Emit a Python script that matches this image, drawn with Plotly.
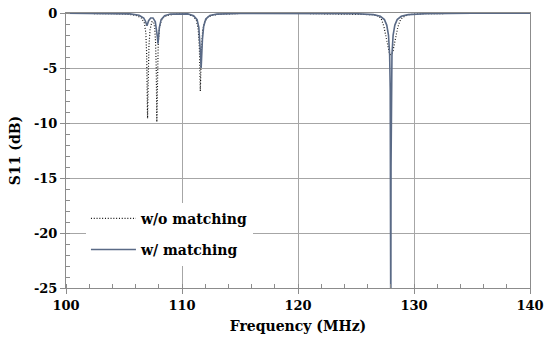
import plotly.graph_objects as go

# ---- data ----
freq_wo = [100, 105, 106.0, 106.5, 106.75, 106.88, 106.95, 107.0, 107.03, 107.08, 107.15,
           107.25, 107.4, 107.55, 107.65, 107.72, 107.78, 107.83, 107.88, 107.95, 108.05,
           108.2, 108.45, 108.8, 109.5, 110.5, 111.0, 111.25, 111.4, 111.5, 111.58, 111.66,
           111.78, 111.95, 112.2, 112.6, 113.3, 115, 120, 125, 126.5, 127.0, 127.2, 127.4,
           127.55, 127.7, 127.8, 127.9, 128.0, 128.1, 128.2, 128.3, 128.45, 128.6, 128.8,
           129.0, 129.5, 131, 135, 140]
s11_wo = [-0.02, -0.08, -0.2, -0.45, -0.9, -1.8, -3.6, -7.5, -9.6, -6.5, -3.0,
          -1.5, -0.8, -0.8, -1.4, -2.6, -5.0, -9.9, -6.0, -2.8, -1.4,
          -0.7, -0.35, -0.2, -0.1, -0.12, -0.3, -0.7, -1.5, -3.2, -7.1, -3.6,
          -1.6, -0.8, -0.4, -0.2, -0.1, -0.04, -0.03, -0.08, -0.15, -0.3, -0.6, -1.2,
          -2.0, -2.9, -3.4, -3.75, -3.8, -3.7, -3.4, -2.8, -2.0, -1.3, -0.7,
          -0.4, -0.15, -0.06, -0.03, -0.02]

freq_w = [100, 104, 105.5, 106.3, 106.7, 106.85, 106.93, 106.98, 107.03, 107.12, 107.3,
          107.5, 107.7, 107.82, 107.88, 107.93, 107.98, 108.05, 108.2, 108.5, 109, 110.5,
          111.0, 111.3, 111.45, 111.55, 111.61, 111.65, 111.69, 111.76, 111.87, 112.05,
          112.4, 113, 115, 120, 125, 126.5, 127.1, 127.45, 127.65, 127.8, 127.9, 127.95,
          127.98, 128.0, 128.02, 128.05, 128.1, 128.2, 128.35, 128.55, 128.9, 129.5, 131,
          135, 140]
s11_w = [-0.01, -0.03, -0.08, -0.2, -0.45, -0.75, -1.0, -1.15, -1.0, -0.7, -0.45,
         -0.45, -0.8, -1.5, -2.2, -2.8, -2.2, -1.3, -0.6, -0.25, -0.1, -0.08,
         -0.25, -0.6, -1.3, -2.5, -4.0, -5.0, -4.0, -2.4, -1.2, -0.55,
         -0.22, -0.1, -0.03, -0.02, -0.06, -0.15, -0.3, -0.6, -1.1, -2.0, -3.8, -7.0,
         -14.0, -30.0, -14.0, -7.0, -3.8, -2.0, -1.1, -0.6, -0.3, -0.15, -0.06,
         -0.02, -0.01]

x_ticks = [100, 110, 120, 130, 140]
y_ticks = [0, -5, -10, -15, -20, -25]

FONT = "DejaVu Serif"

fig = go.Figure()
fig.add_trace(go.Scatter(x=freq_wo, y=s11_wo, mode="lines", name="<b>w/o matching</b>",
                         legendgroup="a",
                         line=dict(color="#111111", width=1.2, dash="1px,1.8px")))
fig.add_trace(go.Scatter(x=freq_w, y=s11_w, mode="lines", name="<b>w/ matching</b>",
                         legendgroup="b",
                         line=dict(color="#5a6a86", width=1.6)))

fig.update_layout(
    width=544, height=338,
    margin=dict(l=66, r=14, t=13, b=50, autoexpand=False),
    paper_bgcolor="white", plot_bgcolor="white",
    font=dict(family=FONT, size=14, color="black"),
    showlegend=True,
    legend=dict(x=0.043, y=0.31, xanchor="left", yanchor="top",
                bgcolor="white", borderwidth=0, itemwidth=45,
                font=dict(family=FONT, size=14, color="black"),
                tracegroupgap=10),
)
fig.update_xaxes(
    range=[100, 140], tickvals=x_ticks, ticktext=["<b>%d</b>" % v for v in x_ticks],
    showgrid=True, gridcolor="#a6a6a6", gridwidth=1,
    showline=True, linecolor="#8c8c8c", linewidth=1, mirror=True,
    ticks="outside", ticklen=5, tickcolor="#8c8c8c",
    minor=dict(dtick=2, ticks="inside", ticklen=4, tickcolor="#8c8c8c", showgrid=False),
    tickfont=dict(family=FONT, size=13, color="black"),
    title=dict(text="<b>Frequency (MHz)</b>", standoff=9,
               font=dict(family=FONT, size=14, color="black")),
    zeroline=False, automargin=False,
)
fig.update_yaxes(
    range=[-25, 0], tickvals=y_ticks, ticktext=["<b>%d</b>" % v for v in y_ticks],
    showgrid=True, gridcolor="#a6a6a6", gridwidth=1,
    showline=True, linecolor="#8c8c8c", linewidth=1, mirror=True,
    ticks="outside", ticklen=5, tickcolor="#8c8c8c",
    minor=dict(dtick=1, ticks="inside", ticklen=4, tickcolor="#8c8c8c", showgrid=False),
    tickfont=dict(family=FONT, size=13, color="black"),
    title=dict(text="<b>S11 (dB)</b>", standoff=10,
               font=dict(family=FONT, size=14, color="black")),
    zeroline=False, automargin=False,
)

fig.write_html("out.html", config={"displayModeBar": False},
               post_script="document.body.style.margin='0';document.body.style.overflow='hidden';")
